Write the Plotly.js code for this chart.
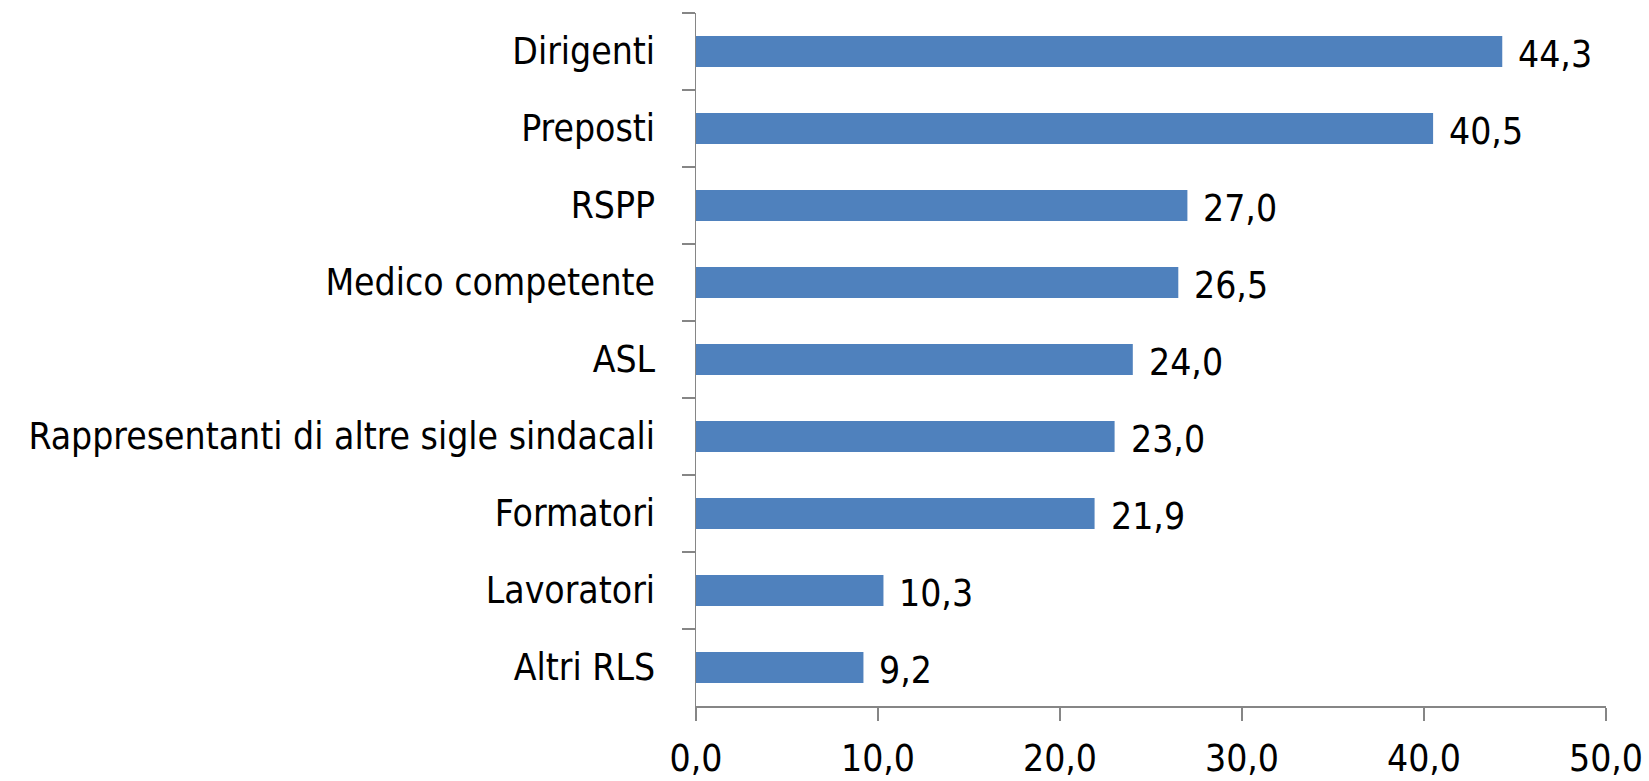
<!DOCTYPE html>
<html>
<head>
<meta charset="utf-8">
<script src="https://cdn.plot.ly/plotly-3.0.1.min.js"></script>
<style>html,body{margin:0;padding:0;background:#fff;}#chart{width:1649px;height:781px;}</style>
</head>
<body>
<div id="chart"></div>
<script>
const categories = ["Dirigenti","Preposti","RSPP","Medico competente","ASL","Rappresentanti di altre sigle sindacali","Formatori","Lavoratori","Altri RLS"];
const values = [44.3, 40.5, 27.0, 26.5, 24.0, 23.0, 21.9, 10.3, 9.2];
const xTicks = [0, 10, 20, 30, 40, 50];

const FONT = "'DejaVu Sans Condensed', 'Liberation Sans Narrow', sans-serif";
const FS = 37;
const fmt = v => v.toFixed(1).replace('.', ',');

const trace = {
  type: 'bar',
  orientation: 'h',
  x: values,
  y: categories,
  marker: {color: '#4F81BD'},
  hoverinfo: 'none'
};

const annotations = values.map((v, i) => ({
  x: v, y: categories[i], xref: 'x', yref: 'y',
  text: fmt(v), showarrow: false, xanchor: 'left', yanchor: 'middle',
  xshift: 14, yshift: -3,
  font: {family: FONT, size: FS, color: '#000'}
}));

const layout = {
  width: 1649, height: 781,
  margin: {l: 696, r: 43, t: 13, b: 75, pad: 0},
  paper_bgcolor: '#fff', plot_bgcolor: '#fff',
  bargap: 0.6,
  showlegend: false,
  font: {family: FONT, size: FS, color: '#000'},
  xaxis: {
    range: [0, 50], tickvals: xTicks, ticktext: xTicks.map(fmt),
    showgrid: false, zeroline: false,
    showline: true, linecolor: '#868686', linewidth: 1.5,
    ticks: 'outside', ticklen: 13, tickcolor: '#868686', tickwidth: 1.5,
    ticklabelstandoff: 6,
    tickfont: {family: FONT, size: FS, color: '#000'}
  },
  yaxis: {
    type: 'category', autorange: 'reversed',
    showgrid: false, zeroline: false,
    showline: true, linecolor: '#868686', linewidth: 1.5,
    ticks: 'outside', ticklen: 13, tickcolor: '#868686', tickwidth: 1.5,
    tickson: 'boundaries',
    ticklabelstandoff: 32,
    tickfont: {family: FONT, size: FS, color: '#000'}
  },
  annotations: annotations
};

Plotly.newPlot('chart', [trace], layout, {staticPlot: true, displayModeBar: false});
</script>
</body>
</html>
